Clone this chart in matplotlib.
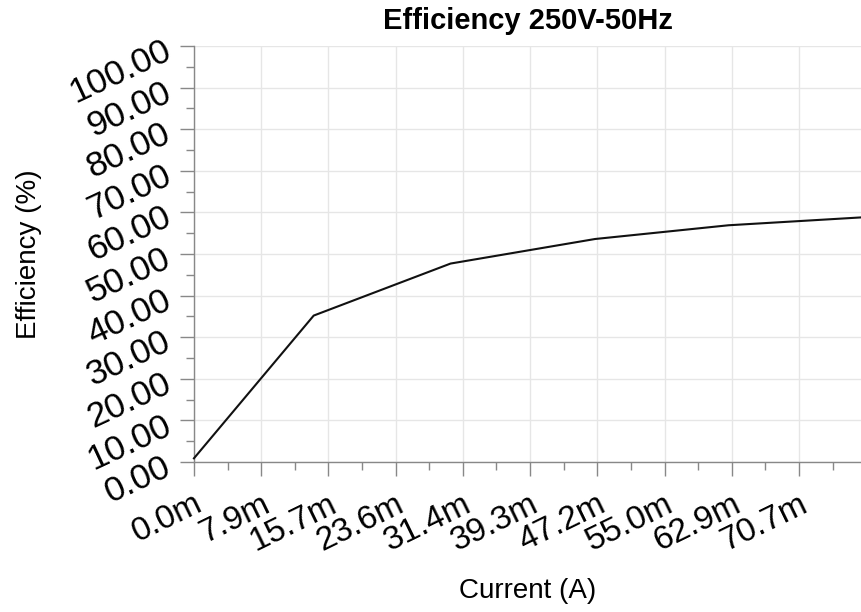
import numpy as np
import matplotlib
matplotlib.use("Agg")
import matplotlib.pyplot as plt
from matplotlib.ticker import MultipleLocator, FuncFormatter

# data (current in mA, efficiency in %)
current_ma = [0.0, 14.0, 30.0, 46.9, 62.5, 78.1]
efficiency = [0.9, 35.2, 47.7, 53.6, 56.9, 58.8]

x_step = 7.86
x_max = 78.1
y_ticks = [0, 10, 20, 30, 40, 50, 60, 70, 80, 90, 100]

plt.rcParams['font.family'] = ['Liberation Sans', 'DejaVu Sans']
tick_font = ['Liberation Sans Narrow', 'Liberation Sans']

fig = plt.figure(figsize=(8.62, 6.12), dpi=100)
ax = fig.add_axes([0.225, 0.245, 0.775, 0.68])

ax.plot(current_ma, efficiency, color='#111111', lw=1.5, clip_on=False, zorder=3)

ax.set_xlim(0, x_max)
ax.set_ylim(0, 100)
ax.xaxis.set_major_locator(MultipleLocator(x_step))
ax.xaxis.set_minor_locator(MultipleLocator(x_step / 2))
ax.set_yticks(y_ticks)
ax.yaxis.set_minor_locator(MultipleLocator(5))
ax.xaxis.set_major_formatter(FuncFormatter(lambda v, p: "%.1fm" % v))
ax.yaxis.set_major_formatter(FuncFormatter(lambda v, p: "%.2f" % v))

ax.grid(True, which='major', color='#e6e6e6', lw=1)
ax.set_axisbelow(True)

for s in ['top', 'right']:
    ax.spines[s].set_visible(False)
for s in ['left', 'bottom']:
    ax.spines[s].set_color('#888888')
    ax.spines[s].set_linewidth(1)

ax.tick_params(which='major', length=10, width=1, color='#888888', direction='out')
ax.tick_params(which='minor', length=5.5, width=1, color='#888888', direction='out')
ax.tick_params(axis='x', labelsize=24, pad=9)
ax.tick_params(axis='y', labelsize=25.5, pad=9)

for lab in ax.get_xticklabels():
    lab.set_family(tick_font)
    lab.set_rotation(26)
    lab.set_ha('right')
    lab.set_va('top')
    lab.set_rotation_mode('anchor')
for lab in ax.get_yticklabels():
    lab.set_family(tick_font)
    lab.set_rotation(25)
    lab.set_ha('right')
    lab.set_va('center_baseline')
    lab.set_rotation_mode('anchor')

ax.set_title("Efficiency 250V-50Hz", fontsize=21, fontweight='bold', pad=12)
ax.set_xlabel("Current (A)", fontsize=20)
ax.set_ylabel("Efficiency (%)", fontsize=20)
ax.xaxis.set_label_coords(0.5, -0.279)
ax.yaxis.set_label_coords(-0.228, 0.5)

fig.savefig("out.png", dpi=100)
